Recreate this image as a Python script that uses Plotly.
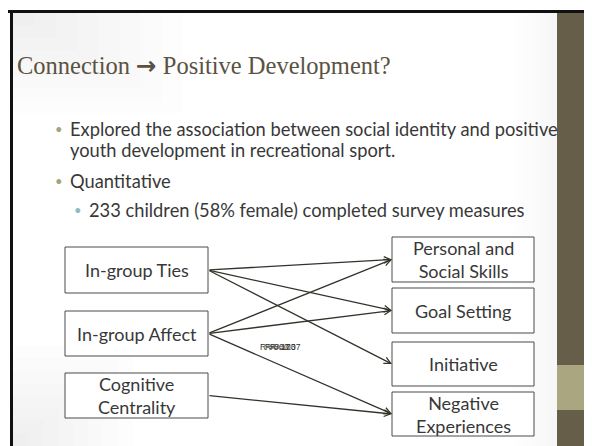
import plotly.graph_objects as go

# slide content
title = ("Connection <span style=\"font-family:'DejaVu Sans';font-weight:bold\">\u2192</span>"
         " Positive Development?")
bullets = [
    ("Explored the association between social identity and positive", 1, True),
    ("youth development in recreational sport.", 1, False),
    ("Quantitative", 1, True),
    ("233 children (58% female) completed survey measures", 2, True),
]
predictors = ["In-group Ties", "In-group Affect", "Cognitive<br>Centrality"]
outcomes = ["Personal and<br>Social Skills", "Goal Setting", "Initiative",
            "Negative<br>Experiences"]
paths = [(0, 0), (0, 1), (0, 2), (1, 0), (1, 1), (1, 3), (2, 3)]
r2_labels = ["R\u00b2=0.17", "R\u00b2=0.03", "R\u00b2=0.07"]

# layout (pixel positions on the 592x446 slide)
W, H = 592, 446
OFF = 8  # page body margin
pred_x = (65, 208)
pred_y = [(247, 293), (311, 356), (373, 418)]
out_x = (392, 534)
out_y = [(237, 282), (288, 333), (342, 386), (392, 436)]
line_y = [129, 150, 181, 210]

dark = "#35322a"
text_col = "#383838"
title_col = "#5a5242"
panel = "#665e49"
band = "#aaa680"

shapes = []
ann = []

# soft shading (corners and next to the panel)
for i in range(8):
    f = 1 - i / 8
    shapes.append(dict(type="rect", x0=13, x1=13 + 170 * f, y0=13, y1=13 + 100 * f,
                       fillcolor="#808080", opacity=0.014, line_width=0, layer="below"))
    shapes.append(dict(type="rect", x0=13, x1=13 + 120 * f, y0=H - 100 * f, y1=H,
                       fillcolor="#808080", opacity=0.014, line_width=0, layer="below"))
    shapes.append(dict(type="rect", x0=557 - 45 * f, x1=557, y0=13, y1=H,
                       fillcolor="#808080", opacity=0.012, line_width=0, layer="below"))

# frame and right panel
shapes.append(dict(type="rect", x0=557, x1=W, y0=13, y1=H, fillcolor=panel, line_width=0))
shapes.append(dict(type="rect", x0=557, x1=W, y0=365, y1=410, fillcolor=band, line_width=0))
shapes.append(dict(type="rect", x0=0, x1=W, y0=10, y1=13, fillcolor="#111111", line_width=0))
shapes.append(dict(type="rect", x0=10, x1=13, y0=10, y1=H, fillcolor="#111111", line_width=0))

# title
ann.append(dict(x=15, y=65, text=title, showarrow=False, xanchor="left", yanchor="middle",
                font=dict(family="Liberation Serif", size=24.5, color=title_col)))

# bullet text
for (txt, lvl, has_bullet), y in zip(bullets, line_y):
    tx = 68 if lvl == 1 else 87
    ann.append(dict(x=tx, y=y, text=txt, showarrow=False, xanchor="left", yanchor="middle",
                    font=dict(family="Lato", size=18.3, color=text_col)))
    if has_bullet:
        ann.append(dict(x=tx - 9, y=y, text="\u2022", showarrow=False,
                        xanchor="center", yanchor="middle",
                        font=dict(family="Lato", size=13,
                                  color="#a6a27c" if lvl == 1 else "#8fbcbc")))

# boxes
box_font = dict(family="Lato", size=18, color=text_col)
for label, (y0, y1) in zip(predictors, pred_y):
    shapes.append(dict(type="rect", x0=pred_x[0], x1=pred_x[1], y0=y0, y1=y1,
                       line=dict(color="#4a4a4a", width=1), fillcolor="white"))
    ann.append(dict(x=sum(pred_x) / 2, y=(y0 + y1) / 2, text=label, showarrow=False,
                    font=box_font))
for label, (y0, y1) in zip(outcomes, out_y):
    shapes.append(dict(type="rect", x0=out_x[0], x1=out_x[1], y0=y0, y1=y1,
                       line=dict(color="#4a4a4a", width=1), fillcolor="white"))
    ann.append(dict(x=sum(out_x) / 2, y=(y0 + y1) / 2, text=label, showarrow=False,
                    font=box_font))

# path arrows
for s, t in paths:
    ann.append(dict(x=out_x[0], y=sum(out_y[t]) / 2, ax=pred_x[1], ay=sum(pred_y[s]) / 2,
                    xref="x", yref="y", axref="x", ayref="y", text="", showarrow=True,
                    arrowhead=5, arrowsize=1, arrowwidth=1.3, arrowcolor=dark, standoff=0))

# overlapping R-squared labels
for i, lab in enumerate(r2_labels):
    ann.append(dict(x=258 + i * 5, y=347, text=lab, showarrow=False, xanchor="left",
                    font=dict(family="Liberation Sans", size=8.5, color="#333333")))

fig = go.Figure()
fig.update_layout(
    width=W - OFF, height=H - OFF,
    margin=dict(l=0, r=0, t=0, b=0),
    paper_bgcolor="white", plot_bgcolor="white",
    xaxis=dict(range=[OFF, W], visible=False, fixedrange=True),
    yaxis=dict(range=[H, OFF], visible=False, fixedrange=True),
    shapes=shapes, annotations=ann, showlegend=False,
)
fig.write_html("out.html")
